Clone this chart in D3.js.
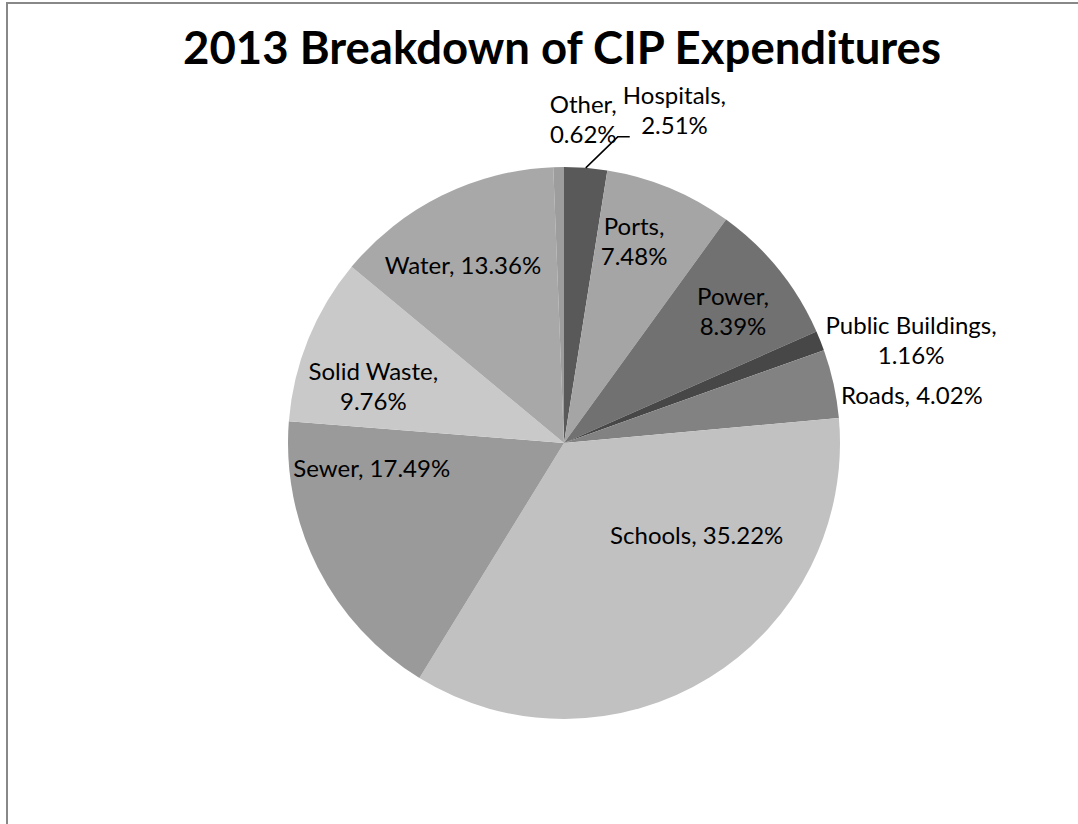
<!DOCTYPE html>
<html>
<head>
<meta charset="utf-8">
<script src="https://cdn.jsdelivr.net/npm/d3@7"></script>
<style>
  html, body { margin: 0; padding: 0; background: #fff; overflow: hidden; }
  svg { display: block; }
  text { font-family: Lato, "Open Sans", sans-serif; fill: #000; }
</style>
</head>
<body>
<svg id="chart" width="1078" height="824"></svg>
<script>
// CIP expenditure shares for 2013, in percent, clockwise from 12 o'clock
const categories = ["Hospitals", "Ports", "Power", "Public Buildings", "Roads",
                    "Schools", "Sewer", "Solid Waste", "Water", "Other"];
const shares = [2.51, 7.48, 8.39, 1.16, 4.02, 35.22, 17.49, 9.76, 13.36, 0.62];
const sliceFills = ["#595959", "#a5a5a5", "#717171", "#474747", "#828282",
                    "#c1c1c1", "#9a9a9a", "#c9c9c9", "#a8a8a8", "#9d9d9d"];
const titleText = "2013 Breakdown of CIP Expenditures";

// Where each data label sits: polar angle (deg, clockwise from top) and distance as a fraction of the radius,
// plus whether the label is split over two lines.
const labelPlacement = {
  "Hospitals":        { angle: 18.4, dist: 1.268, wrap: true },
  "Ports":            { angle: 19.2, dist: 0.772, wrap: true },
  "Power":            { angle: 52.2, dist: 0.775, wrap: true },
  "Public Buildings": { angle: 73.6, dist: 1.311, wrap: true },
  "Roads":            { angle: 82.3, dist: 1.272, wrap: false },
  "Schools":          { angle: 125.0, dist: 0.587, wrap: false },
  "Sewer":            { angle: 262.3, dist: 0.703, wrap: false },
  "Solid Waste":      { angle: 286.6, dist: 0.721, wrap: true },
  "Water":            { angle: 330.3, dist: 0.739, wrap: false },
  "Other":            { angle: 3.4, dist: 1.175, wrap: true }
};

const svg = d3.select("#chart");
const cx = 564, cy = 443, radius = 276;

// chart area frame (only its top and left edges fall inside the view)
svg.append("path")
  .attr("d", "M7,824 L7,3 L1078,3")
  .attr("fill", "none")
  .attr("stroke", "#888888")
  .attr("stroke-width", 2);

// title, sized to span its target width
const title = svg.append("text")
  .attr("x", 562).attr("y", 64)
  .attr("text-anchor", "middle")
  .attr("font-weight", "bold")
  .attr("font-size", 42)
  .text(titleText);
{
  const w = title.node().getComputedTextLength();
  title.attr("font-size", 42 * 758 / w);
}

const data = categories.map((c, i) => ({ name: c, value: shares[i], fill: sliceFills[i] }));

const pie = d3.pie().value(d => d.value).sort(null);
const arc = d3.arc().innerRadius(0).outerRadius(radius);
const arcs = pie(data);

const g = svg.append("g").attr("transform", `translate(${cx},${cy})`);

g.selectAll("path.slice")
  .data(arcs)
  .join("path")
  .attr("class", "slice")
  .attr("d", arc)
  .attr("fill", d => d.data.fill);

// data labels
const fontSize = 24, lineGap = 30;
const polar = (deg, r) => {
  const a = deg * Math.PI / 180;
  return [Math.sin(a) * r, -Math.cos(a) * r];
};

arcs.forEach(d => {
  const p = labelPlacement[d.data.name];
  const [x, y] = polar(p.angle, p.dist * radius);
  const lines = p.wrap
    ? [d.data.name + ",", d.data.value.toFixed(2) + "%"]
    : [d.data.name + ", " + d.data.value.toFixed(2) + "%"];
  const t = g.append("text")
    .attr("text-anchor", "middle")
    .attr("font-size", fontSize)
    .attr("x", x)
    .attr("y", y - (lines.length - 1) * lineGap / 2 + fontSize * 0.35);
  lines.forEach((ln, i) => {
    t.append("tspan").attr("x", x).attr("dy", i === 0 ? 0 : lineGap).text(ln);
  });
});

// leader line from the Hospitals slice edge to its label
const hosp = arcs.find(d => d.data.name === "Hospitals");
const midA = (hosp.startAngle + hosp.endAngle) / 2;
const edge = [Math.sin(midA) * radius, -Math.cos(midA) * radius];
g.append("polyline")
  .attr("points", [edge, [edge[0] + 32, edge[1] - 31], [edge[0] + 44, edge[1] - 31]].map(p => p.join(",")).join(" "))
  .attr("fill", "none")
  .attr("stroke", "#000")
  .attr("stroke-width", 1.5);
</script>
</body>
</html>
